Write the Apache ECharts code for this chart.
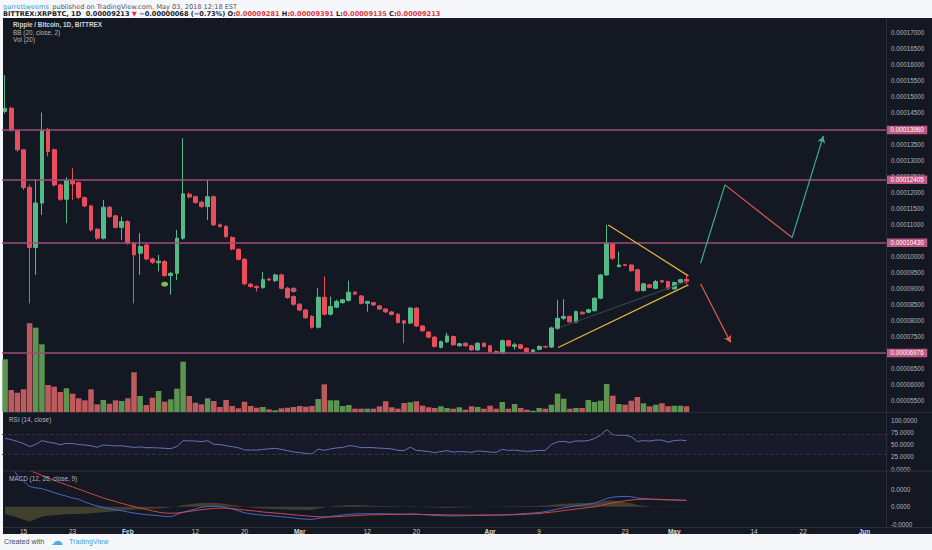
<!DOCTYPE html>
<html>
<head>
<meta charset="utf-8">
<script src="https://cdn.jsdelivr.net/npm/echarts@6/dist/echarts.min.js"></script>
<style>
  html, body { margin: 0; padding: 0; background: #f5f7fa; }
  #chart { width: 932px; height: 550px; }
</style>
</head>
<body>
<div id="chart"></div>
<script>
// prices are in units of 1e-6 BTC, shown as 0.000xxxxx on the axis
const opens = [145.4, 146.4, 139.4, 133.4, 121.6, 102.8, 116.7, 139.8, 133.4, 122.4,
  117.9, 123.7, 123.1, 118.4, 115.8, 108.5, 105.7, 115.4, 112.7, 109.1,
  110.9, 104.1, 101.0, 103.6, 99.2, 98.0, 98.4, 94.0, 94.7, 105.7,
  119.5, 118.7, 117.0, 115.6, 118.7, 109.9, 109.4, 105.9, 102.2, 99.1,
  91.3, 90.6, 90.2, 92.9, 92.4, 94.2, 90.0, 87.4, 85.0, 83.2,
  81.2, 77.8, 87.2, 81.9, 84.1, 85.5, 86.2, 88.8, 87.6, 85.3,
  85.5, 84.5, 83.5, 82.6, 81.9, 79.8, 79.1, 83.8, 78.2, 76.3,
  74.7, 71.5, 73.2, 74.9, 72.0, 72.8, 72.0, 70.7, 72.8, 72.0,
  70.2, 69.7, 73.6, 71.8, 72.3, 71.2, 70.2, 70.9, 71.8, 71.6,
  77.5, 80.6, 81.2, 79.4, 82.5, 82.5, 83.0, 86.9, 94.2, 103.9,
  96.8, 97.4, 97.3, 95.8, 89.3, 91.1, 90.0, 92.4, 92.1, 89.8,
  91.9, 92.81];
const closes = [146.4, 139.4, 133.4, 121.6, 102.8, 116.7, 139.4, 132.8, 122.4, 117.9,
  123.8, 122.7, 118.5, 115.8, 108.3, 105.7, 115.4, 112.5, 109.1, 110.9,
  104.1, 100.5, 103.1, 99.2, 98.2, 98.5, 94.0, 94.7, 105.7, 119.6,
  118.6, 116.9, 115.6, 118.7, 109.9, 109.4, 106.2, 102.3, 99.1, 91.4,
  90.6, 90.2, 92.8, 92.6, 94.2, 90.0, 87.1, 85.0, 83.2, 80.8,
  77.8, 87.2, 81.9, 84.3, 85.9, 86.4, 88.8, 88.2, 85.3, 85.9,
  84.8, 83.5, 82.6, 81.8, 79.3, 79.1, 83.8, 78.2, 76.7, 74.7,
  71.8, 73.3, 75.1, 72.3, 72.6, 72.0, 70.7, 72.8, 71.8, 70.2,
  69.7, 73.6, 72.0, 72.3, 71.2, 70.2, 70.7, 71.8, 71.6, 77.6,
  80.6, 81.2, 79.5, 82.7, 82.0, 83.3, 86.9, 94.2, 104.1, 99.4,
  97.3, 97.2, 95.5, 89.2, 91.4, 90.3, 92.1, 92.0, 89.8, 91.8,
  92.7, 92.13];
const highs = [156.8, 146.9, 139.6, 133.6, 122.5, 124.0, 145.1, 140.3, 133.8, 122.8,
  124.8, 127.6, 123.5, 118.8, 116.2, 108.8, 117.7, 115.8, 113.0, 112.5,
  111.3, 104.5, 107.3, 104.0, 99.6, 100.5, 98.8, 95.2, 108.3, 137.0,
  120.0, 119.1, 117.4, 124.0, 119.1, 110.3, 109.8, 106.3, 102.6, 99.5,
  91.6, 90.9, 95.2, 93.2, 94.6, 94.6, 90.4, 87.8, 85.4, 83.6,
  81.6, 90.0, 93.7, 87.4, 86.5, 86.7, 92.4, 89.1, 87.9, 86.1,
  85.8, 84.8, 83.8, 82.9, 82.2, 80.1, 84.2, 84.1, 78.5, 76.6,
  75.0, 73.6, 76.1, 75.2, 72.9, 73.1, 72.3, 73.1, 73.1, 72.3,
  70.5, 74.0, 73.9, 72.9, 72.6, 71.5, 71.0, 72.1, 72.0, 78.0,
  86.4, 86.6, 81.5, 83.0, 82.8, 83.6, 87.2, 94.5, 109.9, 104.2,
  101.5, 97.7, 97.6, 96.1, 91.7, 91.4, 92.6, 92.7, 92.4, 92.1,
  93.0, 93.91];
const lows = [144.8, 139.1, 132.8, 120.8, 85.3, 94.2, 113.0, 131.3, 121.9, 117.4,
  110.4, 117.7, 118.0, 115.4, 107.8, 105.2, 105.3, 112.0, 108.7, 105.2,
  103.7, 85.3, 94.2, 98.8, 97.6, 95.3, 93.6, 88.0, 92.6, 105.2,
  118.2, 116.5, 115.2, 111.4, 109.5, 109.0, 105.8, 101.9, 98.7, 91.0,
  90.2, 89.0, 89.9, 92.3, 92.0, 89.6, 86.7, 84.6, 82.8, 80.4,
  77.4, 77.4, 81.5, 81.5, 83.8, 85.2, 85.9, 87.9, 85.0, 82.7,
  84.5, 83.2, 82.3, 81.5, 79.0, 72.8, 78.8, 77.9, 76.4, 74.4,
  71.5, 71.2, 72.9, 72.0, 71.7, 71.7, 70.4, 70.4, 71.5, 69.9,
  69.4, 69.4, 71.7, 70.8, 70.9, 69.9, 69.9, 70.6, 71.3, 71.3,
  77.0, 80.1, 79.2, 79.1, 81.7, 82.2, 82.7, 86.6, 93.9, 98.9,
  96.5, 96.9, 95.2, 88.9, 89.0, 90.0, 89.7, 91.7, 89.5, 89.5,
  91.6, 91.35];
const volumes = [52.7, 22, 19.3, 22.7, 88.7, 84.3, 67.7, 27, 25.3, 20,
  23.7, 18.3, 13.7, 11.7, 22.7, 7.7, 12, 8.3, 11.7, 11,
  13.7, 39.7, 16, 7, 14.3, 21, 10.3, 12.7, 23.3, 50.3,
  16, 9.3, 7.7, 13.7, 11, 5, 12, 6, 3.7, 10.3,
  6, 4.3, 5, 2.7, 1.7, 3.7, 4.3, 5, 6, 5.3,
  6, 13, 27.7, 11.7, 11.7, 6, 7, 3.3, 3.3, 3.3,
  3.3, 5.7, 10.7, 4.7, 3.3, 9, 9.7, 10.7, 6.3, 4.7,
  4, 5.7, 4, 3.3, 4.7, 2.3, 5.7, 5, 3.3, 6.3,
  3.3, 10, 3.3, 8, 4, 2.3, 1.3, 4, 3.3, 7.3,
  18.3, 13.3, 3.3, 4, 4, 12, 10, 11.3, 28, 16.3,
  8, 7.3, 11.3, 15, 8.7, 5.7, 7.3, 8.7, 5.7, 6.3,
  6.3, 5.7];
const rsi = [62.6, 60, 56, 52, 45.6, 50, 57.8, 55, 53, 49.5,
  52.4, 52, 50, 49, 47.5, 44.2, 49, 48, 47, 47.5,
  45.6, 44.2, 45, 43.5, 43.5, 43, 42.2, 41.5, 46, 57.8,
  57.5, 57, 55.8, 57.8, 50.3, 50, 47.5, 45.6, 43.5, 38.8,
  38.8, 38.5, 40.1, 41, 42.2, 40, 37.4, 35, 33.3, 32,
  30.6, 40.8, 38, 41, 43, 44, 47.6, 46.5, 43.5, 44,
  43.5, 42.5, 42, 41, 38, 37.5, 44.5, 38, 37, 35.5,
  33.5, 35.5, 37.5, 34.5, 35.5, 35, 34, 37, 36, 34.5,
  34, 40, 38, 38.5, 37, 36, 37, 38, 38, 50,
  55.5, 56.5, 54, 57.5, 57, 58, 62, 69, 80.5, 70,
  69, 69, 66, 56, 58, 57, 59, 59, 55, 58,
  59, 57.8];
const macdLine = [5.5, 4.5, 3.6, 2.9, 2.3, 2.15, 2.06, 1.85, 1.6, 1.4,
  1.2, 1.0, 0.85, 0.55, 0.3, 0.1, -0.05, -0.22, -0.35, -0.45,
  -0.58, -0.7, -0.8, -0.88, -0.94, -1.0, -1.08, -1.12, -0.85, -0.6,
  -0.42, -0.25, -0.05, 0.03, 0.05, 0.03, -0.1, -0.25, -0.45, -0.68,
  -0.8, -0.88, -0.95, -1.0, -1.05, -1.12, -1.18, -1.25, -1.35, -1.4,
  -1.42, -1.3, -1.2, -1.08, -1.0, -0.92, -0.85, -0.8, -0.79, -0.78,
  -0.78, -0.79, -0.79, -0.8, -0.82, -0.84, -0.8, -0.82, -0.88, -0.92,
  -0.98, -1.0, -1.03, -1.03, -1.02, -1.0, -0.99, -0.97, -0.96, -0.95,
  -0.94, -0.91, -0.88, -0.85, -0.8, -0.75, -0.7, -0.65, -0.55, -0.4,
  -0.25, -0.12, 0, 0.1, 0.2, 0.3, 0.42, 0.65, 0.95, 1.1,
  1.15, 1.18, 1.15, 1.0, 0.93, 0.88, 0.84, 0.81, 0.78, 0.76,
  0.74, 0.72];
const signalLine = [6.0, 5.6, 5.2, 4.6, 4.1, 3.85, 3.55, 3.3, 3.0, 2.75,
  2.5, 2.25, 2.0, 1.75, 1.5, 1.25, 1.0, 0.8, 0.6, 0.4,
  0.2, 0.02, -0.15, -0.3, -0.45, -0.6, -0.7, -0.72, -0.7, -0.62,
  -0.52, -0.42, -0.33, -0.25, -0.18, -0.15, -0.15, -0.2, -0.28, -0.35,
  -0.42, -0.5, -0.58, -0.64, -0.7, -0.76, -0.83, -0.9, -0.96, -1.02,
  -1.08, -1.12, -1.14, -1.15, -1.12, -1.08, -1.04, -1.0, -0.95, -0.92,
  -0.9, -0.88, -0.87, -0.86, -0.85, -0.85, -0.85, -0.85, -0.86, -0.87,
  -0.88, -0.9, -0.91, -0.92, -0.93, -0.93, -0.93, -0.93, -0.93, -0.93,
  -0.93, -0.93, -0.92, -0.9, -0.87, -0.83, -0.79, -0.75, -0.68, -0.6,
  -0.52, -0.43, -0.34, -0.25, -0.17, -0.08, 0.0, 0.15, 0.3, 0.45,
  0.57, 0.68, 0.77, 0.84, 0.86, 0.87, 0.86, 0.84, 0.81, 0.79,
  0.76, 0.74];
const macdHist = [-0.8, -1.0, -1.2, -1.45, -1.65, -1.4, -1.1, -1.0, -0.95, -0.9,
  -0.85, -0.82, -0.8, -0.78, -0.72, -0.66, -0.6, -0.55, -0.5, -0.42,
  -0.36, -0.3, -0.27, -0.25, -0.22, -0.18, -0.12, -0.05, 0.08, 0.2,
  0.3, 0.38, 0.44, 0.47, 0.45, 0.4, 0.32, 0.22, 0.12, 0.02,
  -0.08, -0.15, -0.2, -0.22, -0.25, -0.28, -0.3, -0.32, -0.34, -0.35,
  -0.33, -0.2, -0.08, 0.05, 0.12, 0.16, 0.2, 0.2, 0.18, 0.15,
  0.12, 0.1, 0.09, 0.08, 0.06, 0.05, 0.06, 0.03, -0.02, -0.05,
  -0.08, -0.1, -0.12, -0.11, -0.08, -0.05, -0.03, 0.0, 0.02, 0.03,
  0.04, 0.05, 0.06, 0.07, 0.08, 0.09, 0.1, 0.12, 0.15, 0.22,
  0.3, 0.35, 0.38, 0.4, 0.42, 0.44, 0.46, 0.55, 0.68, 0.72,
  0.6, 0.5, 0.4, 0.22, 0.12, 0.05, 0.0, -0.02, -0.03, -0.03,
  -0.02, -0.02];

// horizontal levels drawn on the chart
const levels = [139.60, 124.05, 104.30, 69.76];
const lastPrice = 92.13;
// axis ticks hidden behind the level tags
const coveredTicks = [140, 105, 70];

// x axis tick labels
const tickDates = ['2018-01-15', '2018-01-23', '2018-02-01', '2018-02-12', '2018-02-20', '2018-03-01',
  '2018-03-12', '2018-03-20', '2018-04-01', '2018-04-09', '2018-04-23', '2018-05-01',
  '2018-05-14', '2018-05-22', '2018-06-01'];
const tickNames = ['15', '23', 'Feb', '12', '20', 'Mar', '12', '20', 'Apr', '9', '23', 'May', '14', '22', 'Jun'];

// drawings: [bar index, price]
const triangleTop = [[98.26, 109.87], [111.3, 93.9]];
const triangleBottom = [[90.1, 71.46], [111.3, 91.08]];
const innerTrend = [[90.5, 77.8], [111.0, 92.1]];
const bullPath = [[113.3, 97.87], [117.27, 122.4], [128.2, 105.9], [133.3, 137.74]];
const bearPath = [[113.3, 91.4], [118.2, 73.0]];

// markers under candles
const markerGreen = [['2018-02-07', 91.3]];
const markerPink = [['2018-02-28', 89.5]];

// day categories from Jan 12 to Jun 4 2018
const dates = [];
const day0 = Date.UTC(2018, 0, 12);
for (let i = 0; i < 144; i++) {
  dates.push(new Date(day0 + i * 86400000).toISOString().slice(0, 10));
}

const UP = '#53b987';
const DOWN = '#eb4d5c';
const TEXT = '#b2b5be';
const FONT = 'Liberation Sans';

const chart = echarts.init(document.getElementById('chart'), null, { renderer: 'svg' });

const priceFmt = v => (v / 1e6).toFixed(8);

const seg = (a, b, color, arrow) => [
  { coord: a, symbol: 'none', lineStyle: { color: color, width: 1.2, type: 'solid' } },
  { coord: b, symbol: arrow ? 'arrow' : 'none', symbolSize: arrow ? [6, 7] : 0 }
];

const catAxis = (grid, showLabel) => ({
  type: 'category',
  gridIndex: grid,
  data: dates,
  boundaryGap: true,
  axisLine: { show: false },
  axisTick: { show: false },
  splitLine: { show: false },
  axisLabel: showLabel ? {
    show: true,
    margin: 3,
    fontSize: 6.5,
    fontFamily: FONT,
    color: '#c9ccd3',
    interval: (idx, val) => tickDates.indexOf(val) >= 0,
    formatter: val => {
      const n = tickNames[tickDates.indexOf(val)];
      return isNaN(Number(n)) ? '{b|' + n + '}' : n;
    },
    rich: { b: { fontWeight: 'bold', fontSize: 6.5, fontFamily: FONT, color: '#d6d8de' } }
  } : { show: false }
});

const option = {
  animation: false,
  backgroundColor: '#f5f7fa',
  textStyle: { fontFamily: FONT },
  graphic: [
    { type: 'rect', z: -10, shape: { x: 3, y: 18, width: 929, height: 516 }, style: { fill: '#141823' } },
    { type: 'line', z: 50, shape: { x1: 3, y1: 412.5, x2: 932, y2: 412.5 }, style: { stroke: '#2a2e39', lineWidth: 1 } },
    { type: 'line', z: 50, shape: { x1: 3, y1: 471, x2: 932, y2: 471 }, style: { stroke: '#2a2e39', lineWidth: 1 } },
    { type: 'line', z: 50, shape: { x1: 3, y1: 527.5, x2: 932, y2: 527.5 }, style: { stroke: '#2a2e39', lineWidth: 1 } },
    { type: 'line', z: 50, shape: { x1: 886.5, y1: 18, x2: 886.5, y2: 527.5 }, style: { stroke: '#2a2e39', lineWidth: 1 } },
    {
      type: 'text', x: 3, y: 0.5, z: 100,
      style: {
        text: '{u|garrettweems} {g|published on TradingView.com, May 03, 2018 12:18 EST}',
        rich: {
          u: { fill: '#3d8fd8', fontSize: 6.6, fontFamily: 'DejaVu Sans' },
          g: { fill: '#50535e', fontSize: 6.6, fontFamily: 'DejaVu Sans' }
        }
      }
    },
    {
      type: 'text', x: 3, y: 10, z: 100,
      style: {
        text: '{k|BITTREX:XRPBTC, 1D  0.00009213 }{r|▼}{k| −0.00000068 (−0.73%) O:}{r|0.00009281}{k| H:}{r|0.00009391}{k| L:}{r|0.00009135}{k| C:}{r|0.00009213}',
        rich: {
          k: { fill: '#1e2029', fontSize: 6.6, fontWeight: 'bold', fontFamily: 'DejaVu Sans' },
          r: { fill: '#e0353f', fontSize: 6.6, fontWeight: 'bold', fontFamily: 'DejaVu Sans' }
        }
      }
    },
    { type: 'text', x: 13, y: 21.5, z: 100, style: { text: 'Ripple / Bitcoin, 1D, BITTREX', fill: '#d1d4dc', fontSize: 6.4, fontWeight: 'bold', fontFamily: FONT } },
    { type: 'text', x: 13, y: 29.5, z: 100, style: { text: 'BB (20, close, 2)', fill: TEXT, fontSize: 6.4, fontFamily: FONT } },
    { type: 'text', x: 13, y: 36.5, z: 100, style: { text: 'Vol (20)', fill: TEXT, fontSize: 6.4, fontFamily: FONT } },
    { type: 'text', x: 9, y: 416.5, z: 100, style: { text: 'RSI (14, close)', fill: TEXT, fontSize: 6.4, fontFamily: FONT } },
    { type: 'text', x: 9, y: 475.5, z: 100, style: { text: 'MACD (12, 26, close, 9)', fill: TEXT, fontSize: 6.4, fontFamily: FONT } },
    { type: 'text', x: 4, y: 538, z: 100, style: { text: 'Created with', fill: '#4a4d57', fontSize: 7.2, fontFamily: FONT } },
    { type: 'text', x: 51, y: 535, z: 100, style: { text: '☁', fill: '#5aa9e6', fontSize: 12, fontFamily: 'DejaVu Sans' } },
    { type: 'text', x: 69, y: 538, z: 100, style: { text: 'TradingView', fill: '#3d9fe4', fontSize: 7.2, fontFamily: FONT } }
  ],
  grid: [
    { left: 2, right: 46, top: 17, height: 399 },
    { left: 2, right: 46, top: 322, height: 90 },
    { left: 2, right: 46, top: 420, height: 49 },
    { left: 2, right: 46, top: 471.5, height: 53 }
  ],
  xAxis: [
    catAxis(0, false),
    { type: 'value', gridIndex: 0, min: -0.5, max: 143.5, show: false, splitLine: { show: false } },
    catAxis(1, false),
    catAxis(2, false),
    catAxis(3, true)
  ],
  yAxis: [
    {
      type: 'value', gridIndex: 0, position: 'right', min: 50, max: 175, interval: 5,
      axisLine: { show: false }, axisTick: { show: false }, splitLine: { show: false },
      axisLabel: {
        margin: 5, fontSize: 6.3, color: TEXT, fontFamily: FONT, showMinLabel: false, showMaxLabel: false,
        formatter: v => coveredTicks.indexOf(v) >= 0 ? '' : priceFmt(v)
      }
    },
    { type: 'value', gridIndex: 1, min: 0, max: 90, show: false, splitLine: { show: false } },
    {
      type: 'value', gridIndex: 2, position: 'right', min: 0, max: 100, interval: 25,
      axisLine: { show: false }, axisTick: { show: false }, splitLine: { show: false },
      axisLabel: { margin: 5, fontSize: 6.3, color: TEXT, fontFamily: FONT, formatter: v => v.toFixed(4) }
    },
    {
      type: 'value', gridIndex: 3, position: 'right', min: -2, max: 4, interval: 2,
      axisLine: { show: false }, axisTick: { show: false }, splitLine: { show: false },
      axisLabel: { margin: 5, fontSize: 6.3, color: TEXT, fontFamily: FONT, showMaxLabel: false, formatter: v => (v / 1e6).toFixed(4) }
    }
  ],
  series: [
    {
      name: 'Volume',
      type: 'bar',
      xAxisIndex: 2,
      yAxisIndex: 1,
      barCategoryGap: '10%',
      z: 1,
      silent: true,
      data: volumes.map((v, i) => ({
        value: v,
        itemStyle: { color: closes[i] >= opens[i] ? '#5d9550' : '#bd5a5e' }
      }))
    },
    {
      name: 'XRPBTC',
      type: 'candlestick',
      xAxisIndex: 0,
      yAxisIndex: 0,
      barWidth: '70%',
      z: 3,
      data: opens.map((o, i) => [o, closes[i], lows[i], highs[i]]),
      itemStyle: { color: UP, color0: DOWN, borderColor: UP, borderColor0: DOWN, borderWidth: 1 },
      markLine: {
        silent: true,
        symbol: ['none', 'none'],
        animation: false,
        data: levels.map(v => ({
          yAxis: v,
          lineStyle: { color: '#9c4d77', width: 1.5, type: 'solid' },
          label: { backgroundColor: '#bf5883' }
        })).concat([{
          yAxis: lastPrice,
          lineStyle: { opacity: 0 },
          label: { backgroundColor: '#e04f5f' }
        }]),
        label: {
          show: true,
          position: 'end',
          distance: 1,
          formatter: p => priceFmt(p.value),
          color: '#ffffff',
          fontSize: 6.3,
          fontFamily: FONT,
          padding: [1.5, 3.5, 1, 3.5]
        }
      }
    },
    {
      type: 'scatter',
      xAxisIndex: 0,
      yAxisIndex: 0,
      symbol: 'circle',
      symbolSize: [7, 5],
      z: 4,
      itemStyle: { color: '#a6e05a' },
      data: markerGreen
    },
    {
      type: 'scatter',
      xAxisIndex: 0,
      yAxisIndex: 0,
      symbol: 'circle',
      symbolSize: [6, 5],
      z: 4,
      itemStyle: { color: '#e8707a' },
      data: markerPink
    },
    {
      name: 'drawings',
      type: 'line',
      xAxisIndex: 1,
      yAxisIndex: 0,
      data: [],
      z: 5,
      markLine: {
        silent: true,
        animation: false,
        label: { show: false },
        data: [
          seg(triangleTop[0], triangleTop[1], '#e5b53a', false),
          seg(triangleBottom[0], triangleBottom[1], '#e5b53a', false),
          seg(innerTrend[0], innerTrend[1], '#3a3e4a', false),
          seg(bullPath[0], bullPath[1], '#3aab9c', false),
          seg(bullPath[1], bullPath[2], '#df5a5e', false),
          seg(bullPath[2], bullPath[3], '#3aab9c', true),
          seg(bearPath[0], bearPath[1], '#e0604e', true)
        ]
      }
    },
    {
      name: 'RSI',
      type: 'line',
      xAxisIndex: 3,
      yAxisIndex: 2,
      data: rsi,
      showSymbol: false,
      lineStyle: { color: '#6273b4', width: 1 },
      markLine: {
        silent: true,
        symbol: ['none', 'none'],
        label: { show: false },
        lineStyle: { color: '#30343f', type: 'dashed', width: 1 },
        data: [{ yAxis: 70 }, { yAxis: 30 }]
      },
      markArea: {
        silent: true,
        itemStyle: { color: 'rgba(126, 87, 194, 0.05)' },
        data: [[{ yAxis: 30 }, { yAxis: 70 }]]
      }
    },
    {
      name: 'Histogram',
      type: 'line',
      xAxisIndex: 4,
      yAxisIndex: 3,
      data: macdHist,
      showSymbol: false,
      lineStyle: { width: 0 },
      areaStyle: { color: 'rgba(128, 118, 62, 0.6)' },
      z: 1
    },
    {
      name: 'MACD',
      type: 'line',
      xAxisIndex: 4,
      yAxisIndex: 3,
      data: macdLine,
      showSymbol: false,
      lineStyle: { color: '#4566cc', width: 1 }
    },
    {
      name: 'Signal',
      type: 'line',
      xAxisIndex: 4,
      yAxisIndex: 3,
      data: signalLine,
      showSymbol: false,
      lineStyle: { color: '#d2473c', width: 1 }
    }
  ]
};

chart.setOption(option);
</script>
</body>
</html>
